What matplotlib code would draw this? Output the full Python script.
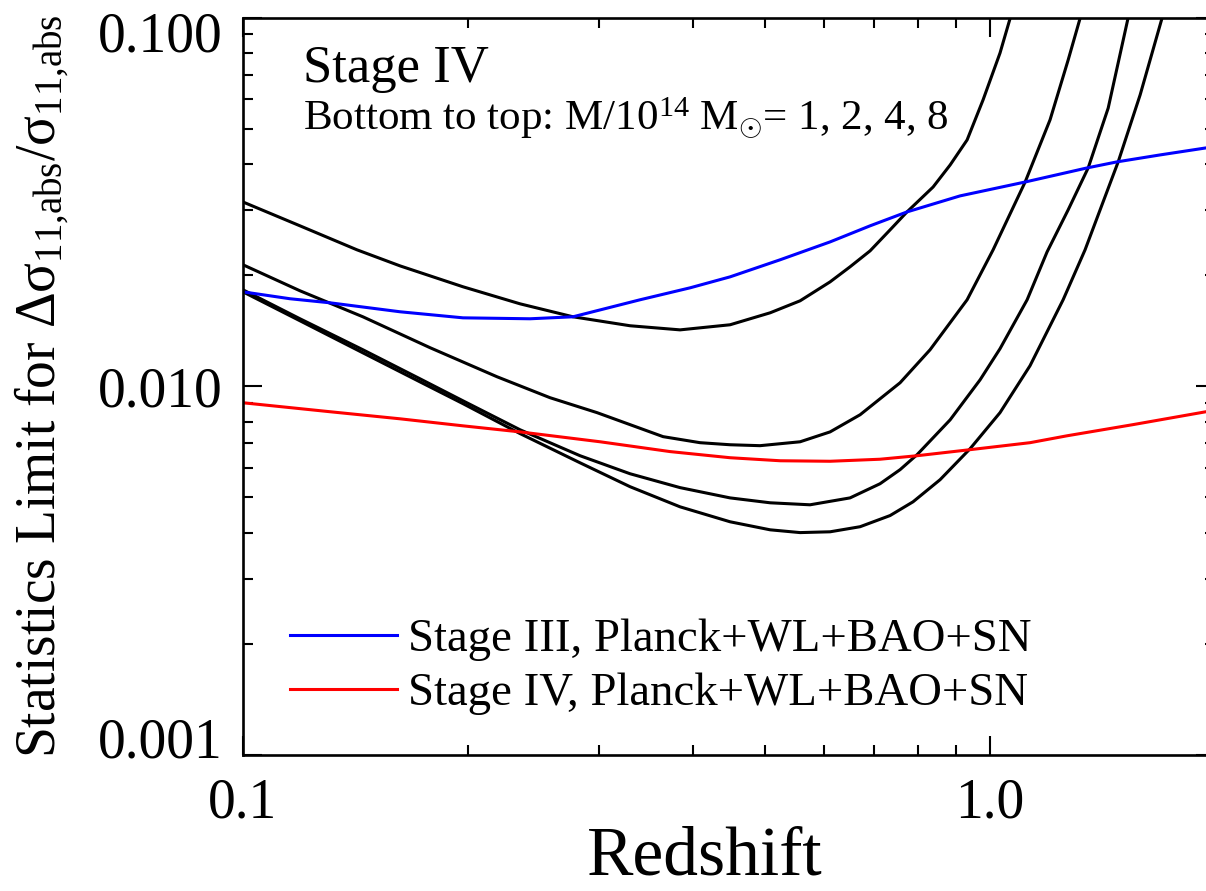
import matplotlib
matplotlib.use("Agg")
import matplotlib.pyplot as plt
from matplotlib.transforms import ScaledTranslation

# ---------------- data ----------------
# Stage III (blue) and Stage IV (red) Planck+WL+BAO+SN
z_blue = [0.100, 0.1156, 0.1307, 0.1623, 0.1970, 0.2422, 0.2765, 0.340, 0.3967, 0.4487,
          0.5236, 0.6107, 0.6908, 0.774, 0.9117, 1.114, 1.349, 1.479, 1.689, 1.946, 2.0]
v_blue = [0.01803, 0.01727, 0.01684, 0.01592, 0.01533, 0.01524, 0.01543, 0.01716, 0.01849, 0.0198,
          0.02203, 0.02463, 0.02723, 0.0297, 0.03283, 0.0358, 0.0391, 0.0406, 0.0424, 0.0443, 0.0447]

z_red = [0.100, 0.1307, 0.1623, 0.1970, 0.2349, 0.3006, 0.3729, 0.4487, 0.5236, 0.6107,
         0.7123, 0.7983, 0.9402, 1.131, 1.268, 1.554, 1.946, 2.0]
v_red = [0.00902, 0.00853, 0.00816, 0.00781, 0.00752, 0.00707, 0.00665, 0.00640, 0.00628, 0.00626,
         0.00634, 0.00648, 0.00673, 0.00703, 0.00734, 0.00787, 0.00853, 0.00861]

# Stage IV cluster statistics limits, M/1e14 Msun = 1, 2, 4, 8
z_m1 = [0.100, 0.1192, 0.1447, 0.1725, 0.1970, 0.2349, 0.2826, 0.3297, 0.3846, 0.4487,
        0.5077, 0.5568, 0.6107, 0.6699, 0.7347, 0.7886, 0.8572, 0.9402, 1.031, 1.131,
        1.2524, 1.340, 1.484, 1.588, 1.699, 1.726]
v_m1 = [0.01803, 0.01505, 0.01232, 0.01028, 0.00897, 0.00744, 0.00620, 0.00534, 0.00471, 0.00429,
        0.00408, 0.00401, 0.00403, 0.00416, 0.00446, 0.00486, 0.00558, 0.00677, 0.00848, 0.01137,
        0.01716, 0.02344, 0.0406, 0.0617, 0.0997, 0.1115]

z_m2 = [0.100, 0.1192, 0.1447, 0.1725, 0.1970, 0.2349, 0.2826, 0.3297, 0.3846, 0.4487,
        0.5077, 0.5741, 0.6494, 0.7123, 0.7577, 0.7983, 0.8842, 0.9696, 1.031, 1.1209,
        1.192, 1.272, 1.353, 1.439, 1.530, 1.549]
v_m2 = [0.01826, 0.01524, 0.01256, 0.01048, 0.00913, 0.00762, 0.00648, 0.00579, 0.00531, 0.00498,
        0.00483, 0.00477, 0.00498, 0.00544, 0.00594, 0.00652, 0.00811, 0.01041, 0.01264, 0.01716,
        0.02314, 0.03009, 0.0391, 0.0568, 0.0997, 0.1115]

z_m4 = [0.100, 0.1192, 0.1447, 0.1780, 0.2188, 0.2576, 0.2978, 0.3650, 0.4090, 0.4487,
        0.4921, 0.5568, 0.6107, 0.6699, 0.7577, 0.8311, 0.9316, 1.0093, 1.114, 1.203,
        1.272, 1.320, 1.340]
v_m4 = [0.02135, 0.01815, 0.01543, 0.01272, 0.01061, 0.00931, 0.00848, 0.00730, 0.00703, 0.00694,
        0.00690, 0.00707, 0.00752, 0.00837, 0.01022, 0.01256, 0.01716, 0.02344, 0.0358, 0.0528,
        0.0767, 0.0997, 0.1115]

z_m8 = [0.100, 0.1192, 0.1421, 0.1623, 0.1970, 0.2349, 0.2765, 0.3297, 0.3846, 0.4487,
        0.5077, 0.5568, 0.6107, 0.6494, 0.6908, 0.7347, 0.774, 0.8389, 0.8842, 0.9316,
        0.9786, 1.031, 1.064, 1.080]
v_m8 = [0.0316, 0.02723, 0.02344, 0.0212, 0.01861, 0.01673, 0.01543, 0.01459, 0.01422, 0.01468,
        0.01582, 0.01705, 0.01919, 0.02108, 0.02329, 0.02655, 0.0297, 0.0347, 0.03983, 0.04656,
        0.0598, 0.0801, 0.0997, 0.1115]

x_ticks = [0.1, 1.0]
x_ticklabels = ["0.1", "1.0"]
y_ticks = [0.001, 0.01, 0.1]
y_ticklabels = ["0.001", "0.010", "0.100"]

legend_labels = ["Stage III, Planck+WL+BAO+SN", "Stage IV, Planck+WL+BAO+SN"]

# ---------------- style ----------------
plt.rcParams["font.family"] = ["Liberation Serif", "DejaVu Serif"]
plt.rcParams["mathtext.fontset"] = "custom"
plt.rcParams["mathtext.rm"] = "Liberation Serif"
plt.rcParams["mathtext.it"] = "Liberation Serif"
plt.rcParams["mathtext.bf"] = "Liberation Serif:bold"

fig = plt.figure(figsize=(12.06, 8.91), dpi=100)
ax = fig.add_axes([243/1206, 1 - 755/891, 972/1206, 737.5/891])
ax.set_xscale("log")
ax.set_yscale("log")
ax.set_xlim(0.1, 2.0)
ax.set_ylim(0.001, 0.1)

lw = 2.2
for zz, vv in [(z_m1, v_m1), (z_m2, v_m2), (z_m4, v_m4), (z_m8, v_m8)]:
    ax.plot(zz, vv, color="black", lw=lw, solid_joinstyle="round")
hb, = ax.plot(z_blue, v_blue, color="#0000ff", lw=lw, solid_joinstyle="round")
hr, = ax.plot(z_red, v_red, color="#ff0000", lw=lw, solid_joinstyle="round")

ax.set_xticks(x_ticks)
ax.set_xticklabels(x_ticklabels)
ax.set_yticks(y_ticks)
ax.set_yticklabels(y_ticklabels)

for side in ax.spines.values():
    side.set_linewidth(1.9)
ax.tick_params(which="both", direction="in", top=True, right=True, width=1.5)
ax.tick_params(which="major", length=14, labelsize=40)
ax.tick_params(which="minor", length=7)
ax.tick_params(axis="x", which="major", pad=16)
ax.tick_params(axis="y", which="major", pad=15)

# shift outer y tick labels inward like the reference
yt = ax.yaxis.get_major_ticks()
yt[0].label1.set_transform(yt[0].label1.get_transform() + ScaledTranslation(0, 18/100, fig.dpi_scale_trans))
yt[-1].label1.set_transform(yt[-1].label1.get_transform() + ScaledTranslation(0, -14/100, fig.dpi_scale_trans))

ax.set_xlabel("Redshift", fontsize=50)
ax.xaxis.label.set_verticalalignment("baseline")
ax.xaxis.set_label_coords(0.475, -0.1627)
ax.set_ylabel(r"Statistics Limit for $\Delta\sigma_{11{,}\mathrm{abs}}/\sigma_{11{,}\mathrm{abs}}$", fontsize=40)
ax.yaxis.set_label_coords(-0.176, 0.5)

ax.text(0.0617, 0.912, "Stage IV", transform=ax.transAxes, fontsize=38, va="baseline", ha="left")
ax.text(0.0617, 0.847, r"Bottom to top: M/10$^{14}$ M$_{\odot}$= 1, 2, 4, 8",
        transform=ax.transAxes, fontsize=31, va="baseline", ha="left")

ax.legend([hb, hr], legend_labels, loc="upper left", bbox_to_anchor=(0.0484, 0.185),
          frameon=False, fontsize=33.7, handlelength=2.29, handletextpad=0.235,
          labelspacing=0.234, borderpad=0, borderaxespad=0)

fig.savefig("out.png", dpi=100)
